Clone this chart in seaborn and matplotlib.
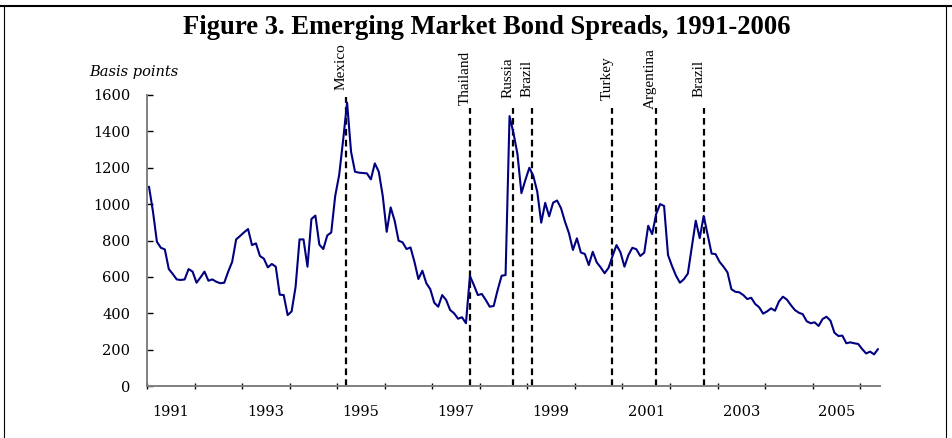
import numpy as np
import pandas as pd
import matplotlib
matplotlib.use('Agg')
import matplotlib.pyplot as plt
from matplotlib.lines import Line2D
import seaborn as sns


# monthly EMBI spread, basis points, Jan 1991 - May 2006
spread = [1096, 960, 793, 760, 751, 643, 616, 586, 583, 586, 643, 629,
          568, 597, 629, 579, 586, 573, 565, 568, 629, 683, 806, 825,
          845, 863, 775, 784, 715, 700, 652, 671, 656, 502, 500, 390,
          410, 545, 806, 806, 656, 918, 937, 777, 753, 828, 844, 1045,
          1160, 1352, 1558, 1288, 1178, 1173, 1171, 1169, 1136, 1224, 1178, 1045,
          848, 982, 909, 799, 790, 753, 762, 683, 588, 634, 565, 532,
          458, 436, 500, 473, 418, 400, 370, 378, 345, 605, 555, 500,
          506, 473, 436, 440, 528, 606, 610, 1484, 1390, 1275, 1060, 1133,
          1200, 1155, 1068, 898, 1007, 933, 1008, 1020, 977, 903, 840, 748,
          812, 734, 726, 665, 738, 680, 652, 620, 650, 715, 775, 735,
          656, 720, 760, 752, 715, 733, 881, 835, 945, 1000, 990, 720,
          660, 607, 568, 587, 618, 762, 909, 813, 935, 830, 728, 725,
          683, 656, 625, 532, 518, 515, 500, 478, 485, 451, 433, 398,
          410, 427, 414, 465, 491, 475, 445, 418, 403, 395, 356, 345,
          350, 330, 368, 381, 359, 293, 275, 277, 235, 240, 235, 231,
          203, 179, 189, 174, 203]
start_month = '1991-01-01'

crisis_names = ['Mexico', 'Thailand', 'Russia', 'Brazil', 'Turkey', 'Argentina', 'Brazil']
crisis_dates = [1995.18, 1997.79, 1998.69, 1999.09, 2000.79, 2001.70, 2002.71]

year_ticks = list(range(1991, 2007))
year_labels = ['1991', '1993', '1995', '1997', '1999', '2001', '2003', '2005']
y_ticks = [0, 200, 400, 600, 800, 1000, 1200, 1400, 1600]

dates = pd.date_range(start_month, periods=len(spread), freq='MS')
df = pd.DataFrame({'t': dates.year + (dates.month - 0.5) / 12, 'bp': spread})

sns.set_style('ticks')
plt.rcParams['font.family'] = ['DejaVu Serif']
plt.rcParams['text.color'] = 'black'
plt.rcParams['xtick.labelcolor'] = 'black'
plt.rcParams['ytick.labelcolor'] = 'black'

fig = plt.figure(figsize=(9.52, 4.38), dpi=100)
ax = fig.add_axes([147 / 952, 52 / 438, 733 / 952, 291 / 438])

sns.lineplot(data=df, x='t', y='bp', ax=ax, color='#000080', linewidth=1.5)

# crisis markers
for name, d in zip(crisis_names, crisis_dates):
    top = 1590 if name == 'Mexico' else 1528
    ax.plot([d, d], [0, top], color='black', lw=1.6, ls=(0, (3.0, 1.9)), zorder=1)
    ax.annotate(name, xy=(d, top), xytext=(-5, 30), textcoords='offset pixels',
                rotation=90, ha='center', va='center', fontsize=11, color='black',
                family='Liberation Serif', annotation_clip=False)

ax.set_xlim(1991, 1991 + len(spread) / 12)
ax.set_ylim(0, 1600)
ax.set_xlabel('')
ax.set_ylabel('')

ax.set_xticks(year_ticks)
ax.set_xticklabels([])
ax.set_xticks([int(y) + 0.5 for y in year_labels], minor=True)
ax.set_xticklabels(year_labels, minor=True)
ax.tick_params(axis='x', which='major', direction='inout', length=5, width=1, color='black')
ax.tick_params(axis='x', which='minor', length=0, pad=14, labelsize=10.5)

ax.set_yticks(y_ticks)
ax.set_yticklabels([str(v) for v in y_ticks])
ax.tick_params(axis='y', direction='in', length=4.3, width=1, color='black', pad=12, labelsize=10.5)

sns.despine(ax=ax)
for s in ['left', 'bottom']:
    ax.spines[s].set_color('#808080')
    ax.spines[s].set_linewidth(1.4)

fig.text(0.511, 1 - 34 / 438, 'Figure 3. Emerging Market Bond Spreads, 1991-2006',
         ha='center', va='baseline', fontsize=19.2, fontweight='bold', color='black',
         family='Liberation Serif')
fig.text(89 / 952, 1 - 76 / 438, 'Basis points', style='italic', fontsize=10.5, va='baseline')

# frame around the figure
fig.add_artist(Line2D([0, 1], [1 - 5.5 / 438] * 2, transform=fig.transFigure, color='black', lw=1.5))
fig.add_artist(Line2D([3.5 / 952] * 2, [0, 1 - 5.5 / 438], transform=fig.transFigure, color='black', lw=0.8))
fig.add_artist(Line2D([946 / 952] * 2, [0, 1 - 5.5 / 438], transform=fig.transFigure, color='black', lw=0.8))

fig.savefig('out.png', dpi=100)
